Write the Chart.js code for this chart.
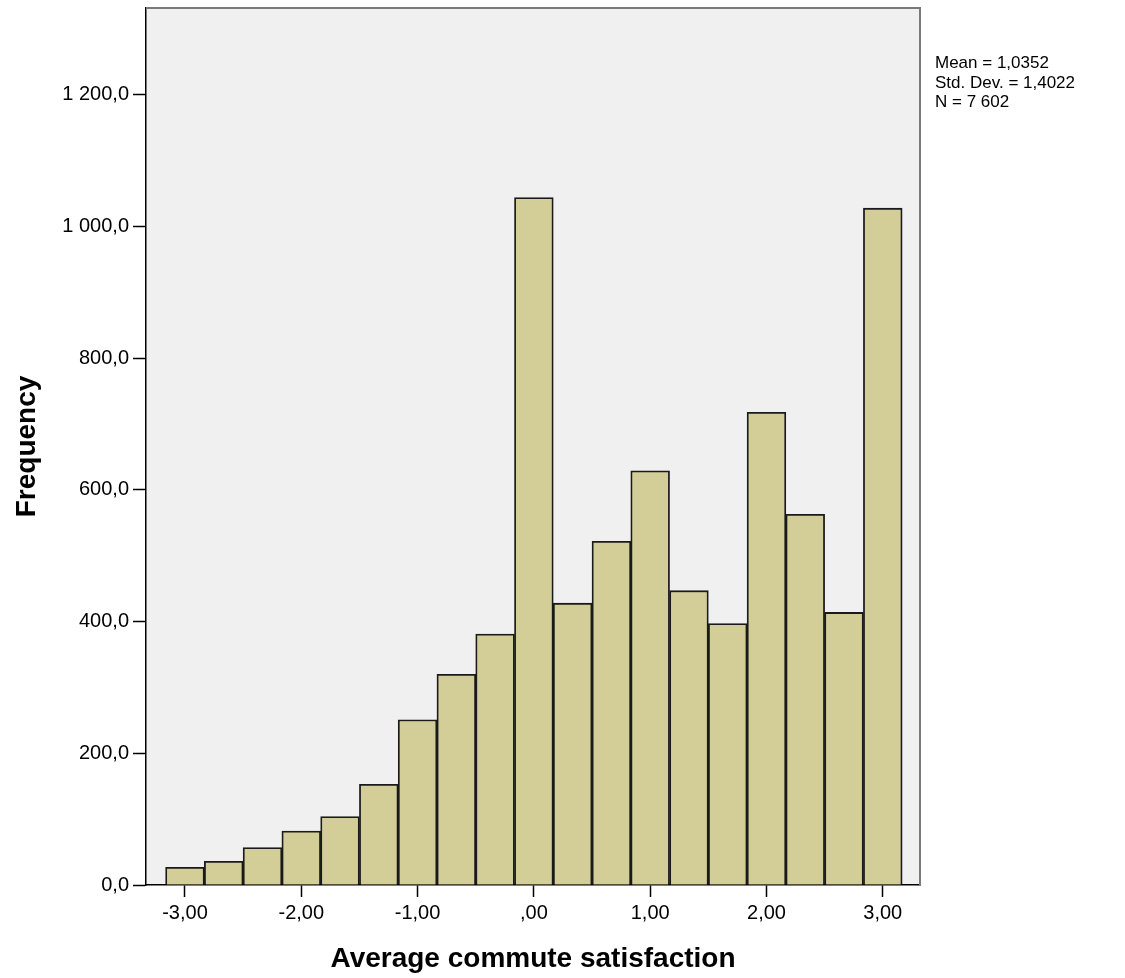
<!DOCTYPE html>
<html>
<head>
<meta charset="utf-8">
<script src="https://cdn.jsdelivr.net/npm/chart.js@4.4.1/dist/chart.umd.min.js"></script>
<style>
  html, body { margin: 0; padding: 0; background: #fff; }
  #wrap { width: 1125px; height: 978px; }
</style>
</head>
<body>
<div id="wrap"><canvas id="hist" width="1125" height="978"></canvas></div>
<script>
// histogram bins (centres) and counts
const binCenters = [-3.0000, -2.6667, -2.3333, -2.0000, -1.6667, -1.3333, -1.0000, -0.6667, -0.3333,
  0.0000, 0.3333, 0.6667, 1.0000, 1.3333, 1.6667, 2.0000, 2.3333, 2.6667, 3.0000]
const frequencies = [27, 36, 57, 82, 104, 153, 251, 320, 381,
  1044, 428, 522, 629, 447, 397, 718, 563, 414, 1028]

const xTickValues = [-3, -2, -1, 0, 1, 2, 3]
const xTickLabels = ["-3,00", "-2,00", "-1,00", ",00", "1,00", "2,00", "3,00"]
const yTickValues = [0, 200, 400, 600, 800, 1000, 1200]
const yTickLabels = ["0,0", "200,0", "400,0", "600,0", "800,0", "1 000,0", "1 200,0"]
const statsLines = ["Mean = 1,0352", "Std. Dev. = 1,4022", "N = 7 602"]

const FONT = "'Liberation Sans', Arial, sans-serif"

const framePlugin = {
  id: "frame",
  beforeDraw(chart) {
    const { ctx, chartArea: a } = chart
    ctx.save()
    ctx.fillStyle = "#f0f0f0"
    ctx.fillRect(a.left, a.top, a.right - a.left, a.bottom - a.top)
    ctx.restore()
  },
  afterDraw(chart) {
    const { ctx, chartArea: a } = chart
    ctx.save()
    ctx.strokeStyle = "#7a7a7a"
    ctx.lineWidth = 2
    ctx.beginPath()
    ctx.moveTo(a.left, a.top)
    ctx.lineTo(a.right, a.top)
    ctx.lineTo(a.right, a.bottom)
    ctx.stroke()

    ctx.fillStyle = "#000"
    ctx.font = "17px " + FONT
    ctx.textBaseline = "alphabetic"
    statsLines.forEach((line, i) => ctx.fillText(line, a.right + 15, 68 + i * 19.5))
    ctx.restore()
  }
}

new Chart(document.getElementById("hist"), {
  type: "bar",
  data: {
    datasets: [{
      data: binCenters.map((x, i) => ({ x: x, y: frequencies[i] })),
      backgroundColor: "#d3ce98",
      borderColor: "#1a1a1a",
      borderWidth: 1.8,
      barPercentage: 1,
      categoryPercentage: 1
    }]
  },
  options: {
    responsive: false,
    animation: false,
    layout: { padding: { top: 0, right: 205, left: 0, bottom: 0 } },
    plugins: { legend: { display: false }, tooltip: { enabled: false } },
    scales: {
      x: {
        type: "linear",
        min: -3.335,
        max: 3.32,
        offset: false,
        afterBuildTicks: (s) => { s.ticks = xTickValues.map(v => ({ value: v })) },
        afterFit: (s) => { s.height = 93 },
        grid: { offset: false, drawOnChartArea: false, drawTicks: true, tickLength: 12, tickColor: "#000", tickWidth: 1.5 },
        border: { display: true, color: "#000", width: 1.5 },
        ticks: {
          color: "#000",
          font: { family: FONT, size: 20 },
          padding: 4,
          maxRotation: 0,
          autoSkip: false,
          callback: (v) => xTickLabels[xTickValues.indexOf(v)]
        },
        title: {
          display: true,
          text: "Average commute satisfaction",
          color: "#000",
          font: { family: FONT, size: 28, weight: "bold" },
          padding: { top: 0, bottom: 2 }
        }
      },
      y: {
        min: 0,
        max: 1332,
        afterBuildTicks: (s) => { s.ticks = yTickValues.map(v => ({ value: v })) },
        afterFit: (s) => { s.width = 146; s.paddingTop = 8; s.paddingBottom = 0 },
        grid: { drawOnChartArea: false, drawTicks: true, tickLength: 13, tickColor: "#000", tickWidth: 1.5 },
        border: { display: true, color: "#000", width: 1.5 },
        ticks: {
          color: "#000",
          font: { family: FONT, size: 20 },
          padding: 4,
          callback: (v) => yTickLabels[yTickValues.indexOf(v)]
        },
        title: {
          display: true,
          text: "Frequency",
          color: "#000",
          font: { family: FONT, size: 28, weight: "bold" },
          padding: { top: 10, bottom: 0 }
        }
      }
    }
  },
  plugins: [framePlugin]
})
</script>
</body>
</html>
